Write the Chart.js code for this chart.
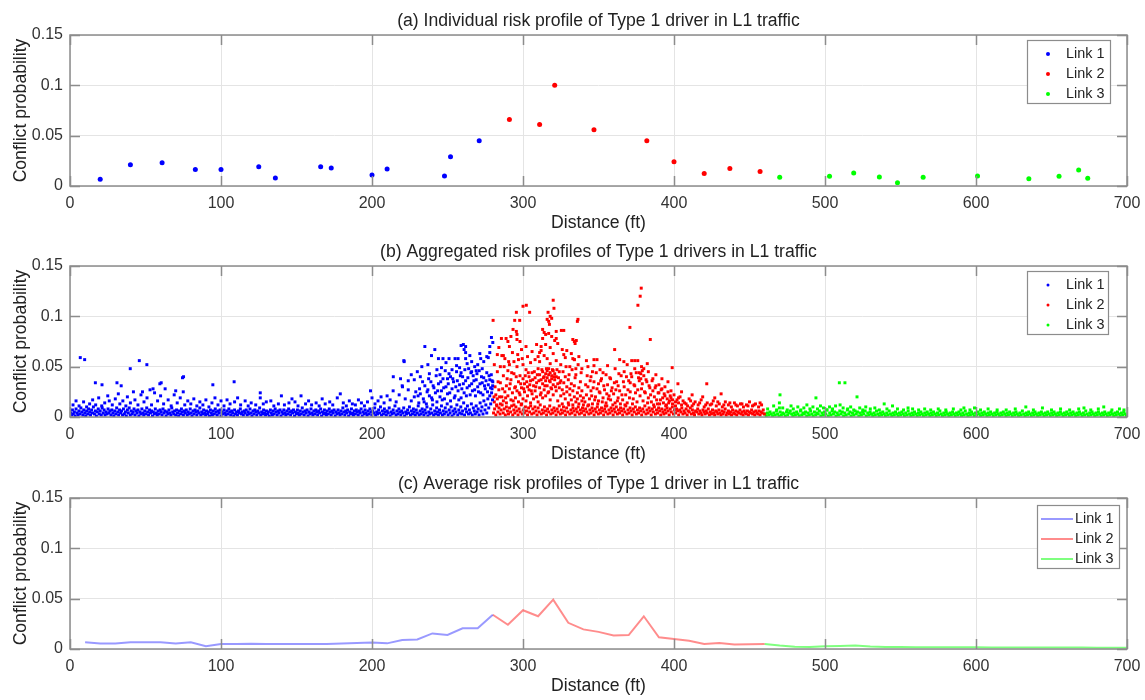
<!DOCTYPE html>
<html><head><meta charset="utf-8">
<script src="https://cdn.jsdelivr.net/npm/chart.js@4.4.1/dist/chart.umd.min.js"></script>
<style>
html,body{margin:0;padding:0;background:#fff;width:1145px;height:700px;overflow:hidden;}
canvas{position:absolute;left:0;}
</style></head><body>
<canvas id="ca" width="1145" height="234" style="top:0px;width:1145px;height:234px"></canvas>
<canvas id="cb" width="1145" height="231" style="top:234px;width:1145px;height:231px"></canvas>
<canvas id="cc" width="1145" height="232" style="top:465px;width:1145px;height:232px"></canvas>
<script>
// ---------- Tick labels / text ----------
const seriesNames = ["Link 1", "Link 2", "Link 3"];
const xTicks = [0, 100, 200, 300, 400, 500, 600, 700];
const yTicks = [0, 0.05, 0.1, 0.15];
const titles = [
  "(a) Individual risk profile of Type 1 driver in L1 traffic",
  "(b) Aggregated risk profiles of Type 1 drivers in L1 traffic",
  "(c) Average risk profiles of Type 1 driver in L1 traffic"
];

// ---------- (a) Individual profile ----------
const aLink1 = [[20,.0066],[40,.021],[61,.023],[83,.0165],[100,.0165],[125,.019],[136,.008],[166,.019],[173,.018],[200,.011],[210,.017],[248,.010],[252,.029],[271,.045]];
const aLink2 = [[291,.066],[311,.061],[321,.100],[347,.056],[382,.045],[400,.024],[420,.0125],[437,.0175],[457,.0145]];
const aLink3 = [[470,.0086],[503,.0096],[519,.013],[536,.009],[548,.0033],[565,.0086],[601,.0099],[635,.0073],[655,.0096],[668,.016],[674,.0076]];

// ---------- (b) Aggregated profiles ----------
const bLink1 = [
[0.5,.004],[1,.002],[1.6,.007],[2.2,.003],[2.9,.005],[3.4,.001],[4,.008],[4.7,.004],[5.3,.002],[5.9,.006],[6.6,.003],[7.2,.009],[7.8,.005],[8.5,.002],[9.1,.007],[9.8,.004],[10.4,.001],[11,.006],[11.7,.003],[12.3,.008],
[13,.005],[13.6,.002],[14.3,.007],[14.9,.004],[15.5,.010],[16.2,.003],[16.8,.006],[17.5,.001],[18.1,.005],[18.7,.008],[19.4,.003],[20,.006],[20.7,.002],[21.3,.009],[22,.004],[22.6,.007],[23.2,.002],[23.9,.005],[24.5,.003],[25.2,.008],
[25.8,.004],[26.4,.006],[27.1,.002],[27.7,.007],[28.4,.004],[29,.001],[29.6,.006],[30.3,.003],[30.9,.009],[31.6,.005],[32.2,.002],[32.8,.007],[33.5,.004],[34.1,.006],[34.8,.002],[35.4,.008],[36,.003],[36.7,.005],[37.3,.001],[38,.007],
[38.6,.004],[39.2,.009],[39.9,.002],[40.5,.006],[41.2,.003],[41.8,.005],[42.4,.008],[43.1,.002],[43.7,.006],[44.4,.004],[45,.007],[45.6,.001],[46.3,.005],[46.9,.003],[47.6,.008],[48.2,.004],[48.8,.002],[49.5,.006],[50.1,.003],[50.8,.009],
[51.4,.005],[52,.002],[52.7,.007],[53.3,.004],[54,.006],[54.6,.001],[55.2,.005],[55.9,.003],[56.5,.008],[57.2,.004],[57.8,.002],[58.4,.006],[59.1,.003],[59.7,.007],[60.4,.005],[61,.002],[61.6,.008],[62.3,.004],[62.9,.006],[63.6,.001],
[64.2,.005],[64.8,.003],[65.5,.007],[66.1,.004],[66.8,.002],[67.4,.009],[68,.005],[68.7,.003],[69.3,.006],[70,.002],[70.6,.007],[71.2,.004],[71.9,.001],[72.5,.006],[73.2,.003],[73.8,.008],[74.4,.005],[75.1,.002],[75.7,.006],[76.4,.004],
[77,.007],[77.6,.002],[78.3,.005],[78.9,.003],[79.6,.008],[80.2,.004],[80.8,.001],[81.5,.006],[82.1,.003],[82.8,.007],[83.4,.005],[84,.002],[84.7,.006],[85.3,.004],[86,.009],[86.6,.002],[87.2,.005],[87.9,.003],[88.5,.007],[89.2,.004],
[89.8,.002],[90.4,.006],[91.1,.003],[91.7,.005],[92.4,.001],[93,.007],[93.6,.004],[94.3,.002],[94.9,.006],[95.6,.003],[96.2,.008],[96.8,.005],[97.5,.002],[98.1,.006],[98.8,.004],[99.4,.007],[100,.001],[100.7,.005],[101.3,.003],[102,.007],
[102.6,.004],[103.2,.002],[103.9,.006],[104.5,.003],[105.2,.008],[105.8,.005],[106.4,.002],[107.1,.006],[107.7,.004],[108.4,.001],[109,.007],[109.6,.003],[110.3,.005],[110.9,.002],[111.6,.006],[112.2,.004],[112.8,.008],[113.5,.003],[114.1,.005],[114.8,.002],
[115.4,.006],[116,.004],[116.7,.007],[117.3,.002],[118,.005],[118.6,.003],[119.2,.008],[119.9,.004],[120.5,.001],[121.2,.006],[121.8,.003],[122.4,.007],[123.1,.005],[123.7,.002],[124.4,.006],[125,.004],[125.6,.009],[126.3,.002],[126.9,.005],[127.6,.003],
[128.2,.007],[128.8,.004],[129.5,.002],[130.1,.006],[130.8,.003],[131.4,.005],[132,.001],[132.7,.007],[133.3,.004],[134,.002],[134.6,.006],[135.2,.003],[135.9,.008],[136.5,.005],[137.2,.002],[137.8,.006],[138.4,.004],[139.1,.007],[139.7,.001],[140.4,.005],
[141,.003],[141.6,.007],[142.3,.004],[142.9,.002],[143.6,.006],[144.2,.003],[144.8,.008],[145.5,.005],[146.1,.002],[146.8,.006],[147.4,.004],[148,.007],[148.7,.001],[149.3,.005],[150,.003],[150.6,.007],[151.2,.004],[151.9,.002],[152.5,.006],[153.2,.003],
[153.8,.009],[154.4,.005],[155.1,.002],[155.7,.006],[156.4,.004],[157,.007],[157.6,.001],[158.3,.005],[158.9,.003],[159.6,.008],[160.2,.004],[160.8,.002],[161.5,.006],[162.1,.003],[162.8,.007],[163.4,.005],[164,.002],[164.7,.006],[165.3,.004],[166,.008],
[166.6,.001],[167.2,.005],[167.9,.003],[168.5,.007],[169.2,.004],[169.8,.002],[170.4,.006],[171.1,.003],[171.7,.008],[172.4,.005],[173,.002],[173.6,.006],[174.3,.004],[174.9,.007],[175.6,.001],[176.2,.005],[176.8,.003],[177.5,.007],[178.1,.004],[178.8,.002],
[179.4,.006],[180,.003],[180.7,.009],[181.3,.005],[182,.002],[182.6,.006],[183.2,.004],[183.9,.007],[184.5,.001],[185.2,.005],[185.8,.003],[186.4,.008],[187.1,.004],[187.7,.002],[188.4,.006],[189,.003],[189.6,.007],[190.3,.005],[190.9,.002],[191.6,.006],
[192.2,.004],[192.8,.008],[193.5,.001],[194.1,.005],[194.8,.003],[195.4,.007],[196,.004],[196.7,.002],[197.3,.006],[198,.003],[198.6,.008],[199.2,.005],[199.9,.002],[200.5,.006],[201.2,.004],[201.8,.009],[202.4,.002],[203.1,.005],[203.7,.003],[204.4,.007],
[205,.004],[205.6,.010],[206.3,.002],[206.9,.006],[207.6,.003],[208.2,.008],[208.8,.005],[209.5,.002],[210.1,.006],[210.8,.004],[211.4,.009],[212,.001],[212.7,.005],[213.3,.003],[214,.007],[214.6,.004],[215.2,.011],[215.9,.002],[216.5,.006],[217.2,.003],
[217.8,.008],[218.4,.005],[219.1,.002],[219.7,.006],[220.4,.004],[221,.009],[221.6,.001],[222.3,.005],[222.9,.003],[223.6,.007],[224.2,.004],[224.8,.010],[225.5,.002],[226.1,.006],[226.8,.003],[227.4,.008],[228,.005],[228.7,.002],[229.3,.007],[230,.004],
[230.6,.011],[231.2,.002],[231.9,.006],[232.5,.003],[233.2,.008],[233.8,.005],[234.4,.002],[235.1,.007],[235.7,.004],[236.4,.010],[237,.001],[237.6,.005],[238.3,.003],[238.9,.008],[239.6,.004],[240.2,.012],[240.8,.002],[241.5,.006],[242.1,.003],[242.8,.009],
[243.4,.005],[244,.002],[244.7,.007],[245.3,.004],[246,.011],[246.6,.002],[247.2,.006],[247.9,.003],[248.5,.009],[249.2,.005],[249.8,.013],[250.4,.002],[251.1,.007],[251.7,.004],[252.4,.010],[253,.001],[253.6,.006],[254.3,.003],[254.9,.008],[255.6,.005],
[256.2,.012],[256.8,.002],[257.5,.007],[258.1,.004],[258.8,.010],[259.4,.003],[260,.006],[260.7,.014],[261.3,.002],[262,.008],[262.6,.005],[263.2,.011],[263.9,.003],[264.5,.007],[265.2,.004],[265.8,.013],[266.4,.002],[267.1,.009],[267.7,.006],[268.4,.003],
[269,.011],[269.6,.005],[270.3,.008],[270.9,.002],[271.6,.014],[272.2,.006],[272.8,.010],[273.5,.003],[274.1,.016],[274.8,.007],[275.4,.012],[276,.004],[276.7,.018],[277.3,.009],[278,.021],[278.6,.013],[279.2,.024],[279.8,.017],[279.5,.028],[279.9,.031],
[2,.012],[4,.016],[6,.011],[9,.015],[11,.010],[13,.013],[15,.017],[17,.012],[19,.019],[21,.011],[23,.014],[25,.021],[26,.016],[28,.012],[30,.018],[32,.023],[33,.013],[35,.016],[37,.011],[38,.020],
[40,.014],[42,.025],[43,.017],[45,.012],[47,.022],[49,.015],[51,.019],[53,.027],[54,.012],[56,.024],[58,.016],[60,.021],[62,.013],[63,.028],[65,.017],[67,.011],[69,.022],[71,.014],[73,.019],[75,.025],
[76,.012],[78,.016],[80,.013],[82,.018],[84,.011],[86,.015],[88,.012],[90,.017],[92,.010],[94,.014],[96,.019],[98,.012],[100,.016],[102,.011],[104,.017],[106,.013],[109,.015],[111,.019],[113,.012],[116,.016],
[118,.011],[120,.014],[123,.012],[126,.024],[126,.019],[128,.013],[130,.015],[133,.016],[135,.011],[138,.013],[140,.021],[142,.012],[145,.014],[147,.018],[149,.015],[151,.011],[153,.021],[156,.013],[158,.016],[160,.012],
[163,.014],[165,.011],[167,.018],[169,.013],[172,.015],[174,.012],[177,.019],[179,.023],[181,.014],[183,.011],[185,.016],[187,.013],[189,.012],[191,.017],[193,.014],[195,.011],[197,.015],[199,.026],[200,.019],[202,.013],
[204,.016],[206,.020],[208,.014],[210,.021],[212,.017],[214,.026],[216,.015],[218,.022],[220,.031],[222,.018],[224,.027],[226,.016],[228,.020],[229,.025],[231,.014],[232,.023],[234,.018],[235,.031],[236,.013],[237,.027],
[238,.021],[239,.035],[240,.017],[241,.029],[242,.024],[243,.015],[244,.033],[245,.020],[246,.026],[247,.038],[248,.018],[249,.030],[250,.023],[251,.043],[252,.016],[253,.028],[254,.035],[255,.021],[256,.045],[257,.026],
[258,.032],[259,.019],[260,.040],[261,.024],[262,.036],[263,.029],[264,.048],[265,.022],[266,.033],[267,.041],[268,.027],[269,.037],[270,.030],[271,.046],[272,.024],[273,.034],[274,.039],[275,.028],[276,.044],[277,.032],
[278,.037],[279,.042],[280,.035],
[230.5,.021],[231.5,.028],[233.5,.035],[234.5,.015],[236.5,.025],[237.5,.038],[239.5,.019],[240.5,.031],[242.5,.041],[243.5,.026],[245.5,.035],[246.5,.017],[247.5,.029],[248.5,.046],[250.5,.033],[251.5,.024],[253.5,.038],[254.5,.019],[255.5,.030],[256.5,.036],
[257.5,.017],[258.5,.041],[259.5,.028],[260.5,.033],[261.5,.047],[262.5,.021],[263.5,.039],[264.5,.031],[265.5,.044],[266.5,.026],[267.5,.036],[268.5,.021],[269.5,.043],[270.5,.025],[271.5,.033],[272.5,.040],[273.5,.022],[274.5,.031],[275.5,.036],[276.5,.025],
[277.5,.041],[278.5,.029],[279.5,.036],
[6.8,.059],[9.7,.057],[16.8,.034],[21.2,.032],[31.1,.034],[33.9,.031],[39.9,.048],[45.9,.056],[50.9,.052],[60.4,.034],[59.5,.033],[75.2,.040],[74.5,.039],[94.6,.032],[108.7,.035],[48,.025],[55,.028],[70,.026],[214.1,.040],[218.9,.038],
[221.1,.056],[220.2,.030],[221.3,.055],[235,.070],[241.6,.067],[239.4,.061],[244,.058],[247,.058],[251,.058],[255,.058],[257,.058],[259,.071],[260.5,.072],[262,.070],[261,.067],[262,.064],[264.8,.061],[271.4,.063],[272,.058],[279.1,.079],
[280,.074],[278,.070],[278,.064],[277,.059],[230,.045],[233,.050],[237,.052],[243,.047],[246,.049],[249,.054],[253,.047],[256,.051],[258,.049],[263,.053],[266,.055],[268,.050],[270,.052],[274,.055],[276,.060],[266,.045],
[228,.037],[226,.042],[224,.036],[245,.042],[252,.040],[259,.044],[269,.046],[273,.048],[262,.058],[250,.038],[232,.040],[238,.043]
];
const bLink2 = [
[280.5,.004],[281.2,.008],[282,.002],[282.7,.011],[283.4,.005],[284.1,.009],[284.8,.003],[285.5,.007],[286.2,.012],[286.9,.004],[287.6,.008],[288.3,.002],[289,.010],[289.7,.006],[290.4,.003],[291.1,.009],[291.8,.005],[292.5,.011],[293.2,.002],[293.9,.007],
[294.6,.004],[295.3,.010],[296,.006],[296.7,.002],[297.4,.008],[298.1,.005],[298.8,.012],[299.5,.003],[300.2,.007],[300.9,.004],[301.6,.010],[302.3,.006],[303,.002],[303.7,.009],[304.4,.005],[305.1,.011],[305.8,.003],[306.5,.008],[307.2,.004],[307.9,.010],
[308.6,.006],[309.3,.002],[310,.009],[310.7,.005],[311.4,.012],[312.1,.003],[312.8,.007],[313.5,.004],[314.2,.010],[314.9,.006],[315.6,.002],[316.3,.008],[317,.005],[317.7,.011],[318.4,.003],[319.1,.007],[319.8,.004],[320.5,.009],[321.2,.006],[321.9,.002],
[322.6,.008],[323.3,.005],[324,.011],[324.7,.003],[325.4,.007],[326.1,.004],[326.8,.010],[327.5,.006],[328.2,.002],[328.9,.009],[329.6,.005],[330.3,.012],[331,.003],[331.7,.007],[332.4,.004],[333.1,.009],[333.8,.006],[334.5,.002],[335.2,.008],[335.9,.005],
[336.6,.010],[337.3,.003],[338,.007],[338.7,.004],[339.4,.009],[340.1,.006],[340.8,.002],[341.5,.008],[342.2,.005],[342.9,.011],[343.6,.003],[344.3,.007],[345,.004],[345.7,.009],[346.4,.006],[347.1,.002],[347.8,.008],[348.5,.005],[349.2,.010],[349.9,.003],
[350.6,.007],[351.3,.004],[352,.009],[352.7,.006],[353.4,.002],[354.1,.008],[354.8,.005],[355.5,.011],[356.2,.003],[356.9,.007],[357.6,.004],[358.3,.009],[359,.006],[359.7,.002],[360.4,.008],[361.1,.005],[361.8,.010],[362.5,.003],[363.2,.007],[363.9,.004],
[364.6,.009],[365.3,.006],[366,.002],[366.7,.008],[367.4,.005],[368.1,.011],[368.8,.003],[369.5,.007],[370.2,.004],[370.9,.009],[371.6,.006],[372.3,.002],[373,.008],[373.7,.005],[374.4,.010],[375.1,.003],[375.8,.007],[376.5,.004],[377.2,.009],[377.9,.006],
[378.6,.002],[379.3,.008],[380,.005],[380.7,.011],[381.4,.003],[382.1,.007],[382.8,.004],[383.5,.009],[384.2,.006],[384.9,.002],[385.6,.008],[386.3,.005],[387,.010],[387.7,.003],[388.4,.007],[389.1,.004],[389.8,.009],[390.5,.006],[391.2,.002],[391.9,.008],
[392.6,.005],[393.3,.003],[394,.007],[394.7,.004],[395.4,.009],[396.1,.006],[396.8,.002],[397.5,.008],[398.2,.005],[398.9,.010],[399.6,.003],[400.3,.007],[401,.004],[401.7,.008],[402.4,.006],[403.1,.002],[403.8,.007],[404.5,.005],[405.2,.009],[405.9,.003],
[406.6,.006],[407.3,.004],[408,.008],[408.7,.002],[409.4,.006],[410.1,.005],[410.8,.009],[411.5,.003],[412.2,.007],[412.9,.004],[413.6,.002],[414.3,.006],[415,.005],[415.7,.008],[416.4,.003],[417.1,.006],[417.8,.004],[418.5,.002],[419.2,.007],[419.9,.005],
[420.6,.003],[421.3,.006],[422,.004],[422.7,.008],[423.4,.002],[424.1,.005],[424.8,.003],[425.5,.007],[426.2,.004],[426.9,.002],[427.6,.006],[428.3,.005],[429,.003],[429.7,.007],[430.4,.004],[431.1,.002],[431.8,.006],[432.5,.003],[433.2,.005],[433.9,.008],
[434.6,.002],[435.3,.004],[436,.006],[436.7,.003],[437.4,.005],[438.1,.002],[438.8,.007],[439.5,.004],[440.2,.003],[440.9,.006],[441.6,.002],[442.3,.005],[443,.004],[443.7,.007],[444.4,.003],[445.1,.005],[445.8,.002],[446.5,.006],[447.2,.004],[447.9,.003],
[448.6,.006],[449.3,.002],[450,.005],[450.7,.004],[451.4,.007],[452.1,.003],[452.8,.005],[453.5,.002],[454.2,.006],[454.9,.004],[455.6,.003],[456.3,.006],[457,.002],[457.7,.005],[458.4,.004],[459.1,.007],[459.8,.003],
[281,.015],[282,.022],[283,.018],[284,.027],[285,.013],[285,.034],[286,.020],[287,.041],[287,.016],[288,.025],[289,.031],[289,.014],[290,.046],[290,.021],[291,.028],[292,.017],[292,.037],[293,.024],[294,.012],[294,.043],
[295,.030],[295,.019],[296,.026],[296,.050],[297,.015],[297,.035],[298,.022],[298,.041],[299,.029],[299,.013],[300,.038],[300,.018],[301,.033],[301,.025],[302,.047],[302,.016],[303,.030],[303,.021],[304,.040],[304,.027],
[305,.014],[305,.036],[306,.023],[306,.044],[307,.031],[307,.018],[308,.026],[308,.039],[309,.020],[309,.034],[310,.048],[310,.015],[311,.029],[311,.042],[312,.024],[312,.037],[313,.045],[313,.019],[313,.033],[314,.040],
[314,.027],[315,.043],[315,.036],[315,.021],[316,.046],[316,.031],[316,.039],[317,.025],[317,.042],[317,.048],[318,.035],[318,.017],[318,.044],[319,.038],[319,.028],[319,.041],[320,.046],[320,.032],[320,.022],[321,.037],
[321,.043],[322,.026],[322,.040],[323,.033],[323,.016],[324,.029],[324,.045],[325,.021],[325,.036],[326,.027],[326,.013],[327,.034],[327,.023],[328,.040],[328,.018],[329,.030],[329,.025],[330,.014],[330,.037],[331,.022],
[331,.028],[332,.017],[332,.033],[333,.026],[333,.012],[334,.031],[334,.020],[335,.015],[335,.042],[336,.024],[336,.018],[337,.029],[337,.013],[338,.021],[338,.035],[339,.016],[339,.026],[340,.019],[340,.012],
[300.5,.028],[301.5,.041],[302.5,.035],[303.5,.044],[304.5,.032],[305.5,.026],[306.5,.037],[307.5,.045],[308.5,.030],[309.5,.042],[310.5,.036],[311.5,.022],[312.5,.047],[313.5,.039],[314.5,.031],[315.5,.048],[316.5,.024],[317.5,.036],[318.5,.029],[319.5,.047],
[320.5,.040],[321.5,.030],[322.5,.047],[323.5,.039],[324.5,.034],[305,.054],[308,.057],[311,.055],[314,.061],[316,.058],[318,.053],[320,.063],[322,.056],[312,.066],[315,.072],[318,.069],[313,.078],[317,.083],[310,.060],[306,.065],
[303,.060],[300,.052],[297,.057],[294,.055],[291,.052],[288,.058],[285,.050],[283,.045],[286,.061],[293,.064],[299,.067],[302,.070],[309,.072],[325,.052],[328,.059],[331,.050],[334,.057],[326,.067],[323,.073],[321,.076],
[319,.080],[322,.085],[327,.062],
[280.8,.020],[281.5,.030],[282.5,.012],[283.5,.035],[284.5,.020],[286.5,.028],[287.5,.050],[288.5,.019],[289.5,.038],[290.5,.055],[291.5,.033],[292.5,.044],[293.5,.016],[294.5,.029],[295.5,.040],[296.5,.062],[297.5,.024],[298.5,.033],[299.5,.058],[281,.052],
[283,.062],[290,.075],[292,.080],[298,.075],[284,.069],
[326.5,.045],[328.5,.050],[330.5,.042],[332.5,.047],[334.5,.039],[336.5,.052],[338.5,.044],[329,.066],[332,.063],[337,.060],[339,.048],[343,.050],[346,.045],[351,.047],[356,.051],[361,.048],[364,.057],[369,.052],[380,.048],[383,.045],
[388,.042],[392,.038],[396,.035],
[280.2,.096],[285.7,.078],[288.8,.078],[291,.070],[287,.061],[293.4,.087],[294.5,.096],[295.6,.085],[295.6,.104],[296,.082],[296,.077],[297.8,.096],[300,.110],[302.2,.111],[304.4,.104],[316.6,.104],[316,.097],[317,.095],[318,.100],[319,.098],
[317.5,.092],[320,.116],[320.5,.108],[313,.087],[314,.084],[315,.082],[312,.070],[311,.064],[325.4,.086],[327,.086],[322,.078],[335.3,.076],[336,.095],[336.4,.097],[334,.057],[333,.077],[334,.075],[334.5,.073],[333,.058],[342,.056],
[347,.057],[349,.057],[347,.051],[335,.048],[353,.044],[360.7,.067],[366.8,.055],[370.8,.089],[372,.056],[374,.056],[376,.056],[374,.048],[376.1,.111],[377.6,.120],[378.3,.128],[382.3,.053],[384.3,.077],[378,.043],[379,.046],[378.5,.050],
[377,.044],[398.8,.049],[402.6,.033],[421.7,.033],[431.2,.023],
[341,.015],[342,.022],[343,.030],[344,.018],[345,.026],[346,.013],[347,.035],[348,.020],[349,.028],[350,.016],[351,.024],[352,.038],[353,.019],[354,.027],[355,.014],[356,.032],[357,.021],[358,.017],[359,.029],[360,.023],
[361,.014],[362,.035],[363,.019],[364,.026],[365,.041],[366,.017],[367,.030],[368,.022],[369,.014],[370,.036],[371,.025],[372,.040],[373,.018],[374,.031],[375,.044],[376,.027],[377,.036],[378,.038],[379,.033],[380,.041],
[381,.024],[382,.035],[383,.019],[384,.029],[385,.015],[386,.026],[387,.020],[388,.031],[389,.013],[390,.024],[391,.017],[392,.028],[393,.014],[394,.021],[395,.012],[396,.025],[397,.016],[398,.019],[399,.013],[400,.022],
[401,.011],[402,.017],[403,.014],[404,.020],[405,.012],[406,.016],[408,.013],[410,.018],[412,.011],[414,.015],[416,.012],[418,.017],[420,.010],[422,.014],[424,.012],[426,.016],[428,.011],[430,.013],[432,.010],[434,.015],
[436,.012],[438,.010],[440,.014],[442,.011],[444,.013],[446,.010],[448,.012],[450,.015],[452,.011],[454,.013],[456,.010],[458,.012],[345,.040],[350,.033],[355,.042],[358,.038],[363,.031],[367,.045],[371,.034],[386,.038],
[390,.032],[394,.030],[398,.026],[405,.025],[412,.022],[419,.020],[427,.019],
[341.5,.032],[342.5,.041],[343.5,.012],[344.5,.036],[345.5,.021],[346.5,.029],[347.5,.017],[348.5,.044],[349.5,.013],[350.5,.025],[351.5,.036],[352.5,.015],[353.5,.031],[354.5,.011],[355.5,.023],[356.5,.018],[357.5,.039],[358.5,.026],[359.5,.012],[360.5,.034],
[361.5,.027],[362.5,.016],[363.5,.043],[364.5,.013],[365.5,.022],[366.5,.035],[367.5,.012],[368.5,.040],[369.5,.027],[370.5,.019],[371.5,.043],[372.5,.013],[373.5,.032],[374.5,.024],[375.5,.015],[376.5,.039],[377.5,.021],[378.5,.028],[379.5,.016],[380.5,.025],
[381.5,.037],[382.5,.014],[383.5,.031],[384.5,.022],[385.5,.036],[386.5,.012],[387.5,.029],[388.5,.017],[389.5,.024],[390.5,.013],[391.5,.027],[392.5,.019],[393.5,.023],[394.5,.011],[395.5,.018],[396.5,.014],[397.5,.021],[399,.017],[401,.015],[403,.019],
[407,.014],[409,.011],[411,.016],[413,.013],[417,.014],[421,.012],[425,.013],[429,.015],[433,.012],[437,.014],[441,.012],[445,.013],[449,.011],[453,.012],[457,.014]
];
const bLink3 = [
[460.3,.003],[461.1,.001],[461.9,.004],[462.8,.002],[463.6,.005],[464.4,.003],[465.3,.001],[466.1,.004],[467,.002],[467.8,.006],[468.6,.003],[469.5,.001],[470.3,.005],[471.1,.002],[472,.004],[472.8,.003],[473.7,.001],[474.5,.005],[475.3,.002],[476.2,.004],
[477,.006],[477.9,.003],[478.7,.001],[479.5,.004],[480.4,.002],[481.2,.005],[482.1,.003],[482.9,.001],[483.7,.006],[484.6,.002],[485.4,.004],[486.3,.003],[487.1,.005],[487.9,.001],[488.8,.004],[489.6,.002],[490.5,.006],[491.3,.003],[492.1,.001],[493,.005],
[493.8,.002],[494.7,.004],[495.5,.003],[496.3,.006],[497.2,.001],[498,.004],[498.9,.002],[499.7,.005],[500.5,.003],[501.4,.007],[502.2,.001],[503.1,.004],[503.9,.002],[504.7,.006],[505.6,.003],[506.4,.005],[507.3,.001],[508.1,.004],[508.9,.002],[509.8,.006],
[510.6,.003],[511.5,.005],[512.3,.001],[513.1,.004],[514,.002],[514.8,.007],[515.7,.003],[516.5,.005],[517.3,.001],[518.2,.004],[519,.002],[519.9,.006],[520.7,.003],[521.5,.005],[522.4,.001],[523.2,.004],[524.1,.002],[524.9,.005],[525.7,.003],[526.6,.006],
[527.4,.001],[528.3,.004],[529.1,.002],[529.9,.005],[530.8,.003],[531.6,.001],[532.5,.004],[533.3,.002],[534.1,.006],[535,.003],[535.8,.001],[536.7,.004],[537.5,.002],[538.3,.005],[539.2,.003],[540,.001],[540.9,.004],[541.7,.002],[542.5,.006],[543.4,.003],
[544.2,.001],[545.1,.004],[545.9,.002],[546.7,.005],[547.6,.003],[548.4,.001],[549.3,.004],[550.1,.002],[550.9,.005],[551.8,.003],[552.6,.001],[553.5,.004],[554.3,.002],[555.1,.006],[556,.003],[556.8,.001],[557.7,.004],[558.5,.002],[559.3,.005],[560.2,.003],
[561,.001],[561.9,.004],[562.7,.002],[563.5,.005],[564.4,.003],[565.2,.001],[566.1,.004],[566.9,.002],[567.7,.005],[568.6,.003],[569.4,.001],[570.3,.004],[571.1,.002],[571.9,.005],[572.8,.003],[573.6,.001],[574.5,.004],[575.3,.002],[576.1,.006],[577,.003],
[577.8,.001],[578.7,.004],[579.5,.002],[580.3,.005],[581.2,.003],[582,.001],[582.9,.004],[583.7,.002],[584.5,.005],[585.4,.003],[586.2,.001],[587.1,.004],[587.9,.002],[588.7,.005],[589.6,.003],[590.4,.001],[591.3,.004],[592.1,.002],[592.9,.006],[593.8,.003],
[594.6,.001],[595.5,.004],[596.3,.002],[597.1,.005],[598,.003],[598.8,.001],[599.7,.004],[600.5,.002],[601.3,.005],[602.2,.003],[603,.001],[603.9,.004],[604.7,.002],[605.5,.005],[606.4,.003],[607.2,.001],[608.1,.004],[608.9,.002],[609.7,.005],[610.6,.003],
[611.4,.001],[612.3,.004],[613.1,.002],[613.9,.005],[614.8,.003],[615.6,.001],[616.5,.004],[617.3,.002],[618.1,.005],[619,.003],[619.8,.001],[620.7,.004],[621.5,.002],[622.3,.005],[623.2,.003],[624,.001],[624.9,.004],[625.7,.002],[626.5,.005],[627.4,.003],
[628.2,.001],[629.1,.004],[629.9,.002],[630.7,.006],[631.6,.003],[632.4,.001],[633.3,.004],[634.1,.002],[634.9,.005],[635.8,.003],[636.6,.001],[637.5,.004],[638.3,.002],[639.1,.005],[640,.003],[640.8,.001],[641.7,.004],[642.5,.002],[643.3,.005],[644.2,.003],
[645,.001],[645.9,.004],[646.7,.002],[647.5,.005],[648.4,.003],[649.2,.001],[650.1,.004],[650.9,.002],[651.7,.005],[652.6,.003],[653.4,.001],[654.3,.004],[655.1,.002],[655.9,.005],[656.8,.003],[657.6,.001],[658.5,.004],[659.3,.002],[660.1,.005],[661,.003],
[661.8,.001],[662.7,.004],[663.5,.002],[664.3,.005],[665.2,.003],[666,.001],[666.9,.004],[667.7,.002],[668.5,.005],[669.4,.003],[670.2,.001],[671.1,.004],[671.9,.002],[672.7,.006],[673.6,.003],[674.4,.001],[675.3,.004],[676.1,.002],[676.9,.005],[677.8,.003],
[678.6,.001],[679.5,.004],[680.3,.002],[681.1,.005],[682,.003],[682.8,.001],[683.7,.004],[684.5,.002],[685.3,.005],[686.2,.003],[687,.001],[687.9,.004],[688.7,.002],[689.5,.005],[690.4,.003],[691.2,.001],[692.1,.004],[692.9,.002],[693.7,.005],[694.6,.003],
[695.4,.001],[696.3,.004],[697.1,.002],[697.9,.005],[698.8,.003],[699.6,.001],
[462,.008],[466,.011],[468,.007],[470.2,.022],[469.8,.014],[469.8,.009],[472,.009],[475,.007],[477.5,.011],[479,.008],[482,.010],[484,.007],[486,.009],[488,.012],[490,.008],[492,.010],[494,.019],[495,.008],[497,.011],[499,.009],
[501,.007],[503,.010],[505,.008],[507,.011],[509.5,.034],[510,.012],[512,.009],[513.2,.034],[515,.008],[517,.010],[519,.007],[521.2,.020],[523,.009],[525,.007],[527,.010],[530,.008],[533,.009],[536,.007],[539.2,.013],[541,.008],
[544.7,.011],[548,.008],[552,.007],[555,.009],[558,.008],[562,.007],[566,.008],[570,.007],[575,.008],[580,.007],[585,.008],[590,.007],[592,.009],[596,.007],[599,.009],[603,.007],[608,.008],[614,.007],[620,.007],[626,.008],
[633,.010],[638,.007],[644,.009],[650,.007],[656,.008],[662,.007],[668,.008],[671.5,.009],[676,.007],[681,.008],[684.6,.010],[690,.007],[695,.008],[698,.007]
];

// ---------- (c) Average profiles ----------
const cLink1x = [10,20,30,40,50,60,70,80,90,100,110,120,130,140,150,160,170,180,190,200,210,220,230,240,250,260,270,280];
const cLink1y = [.0066,.0055,.0055,.0066,.0066,.0066,.0055,.0066,.0027,.0050,.0050,.0053,.0050,.0050,.0050,.0050,.0050,.0055,.0060,.0065,.0056,.0090,.0095,.0155,.0140,.0205,.0205,.0340];
const cLink2x = [280,290,300,310,320,330,340,350,360,370,380,390,400,410,420,430,440,450,460];
const cLink2y = [.0340,.0240,.0385,.0325,.0490,.0260,.0195,.0170,.0134,.0138,.0325,.0117,.0100,.0082,.0050,.0060,.0044,.0047,.0050];
const cLink3x = [460,470,480,490,500,510,520,530,540,550,560,570,580,590,600,610,620,630,640,650,660,670,680,690,700];
const cLink3y = [.0050,.0034,.0022,.0020,.0027,.0031,.0034,.0025,.0020,.0019,.0018,.0018,.0017,.0017,.0017,.0016,.0015,.0015,.0015,.0015,.0014,.0014,.0013,.0013,.0012];

// ---------- drawing ----------
const FAM = '"Liberation Sans", Arial, Helvetica, sans-serif';
const TICK_PX = 16, LABEL_PX = 17.6, LEG_PX = 14.4;
const pairs = arr => arr.map(p => ({x: p[0], y: p[1]}));
const zip = (xs, ys) => xs.map((x, i) => ({x, y: ys[i]}));

const matlabPlugin = {
  id: 'matlabAxes',
  afterDatasetsDraw(chart, args, o) {
    const {ctx, chartArea: a, scales: {x, y}} = chart;
    ctx.save();
    ctx.strokeStyle = '#8c8c8c';
    ctx.lineWidth = 1.5;
    ctx.strokeRect(a.left, a.top, a.right - a.left, a.bottom - a.top);
    ctx.beginPath();
    xTicks.forEach(v => {
      const px = Math.round(x.getPixelForValue(v)) + 0.5;
      ctx.moveTo(px, a.bottom); ctx.lineTo(px, a.bottom - 10);
      ctx.moveTo(px, a.top); ctx.lineTo(px, a.top + 10);
    });
    yTicks.forEach(v => {
      const py = Math.round(y.getPixelForValue(v)) + 0.5;
      ctx.moveTo(a.left, py); ctx.lineTo(a.left + 10, py);
      ctx.moveTo(a.right, py); ctx.lineTo(a.right - 10, py);
    });
    ctx.stroke();
    ctx.fillStyle = '#222';
    ctx.font = LABEL_PX + 'px ' + FAM;
    ctx.textAlign = 'center';
    ctx.textBaseline = 'middle';
    ctx.fillText(o.title, (a.left + a.right) / 2, a.top - 14);
    const L = o.legend;
    const bx = a.right - L.right - L.w, by = a.top + L.top;
    ctx.fillStyle = '#fff';
    ctx.fillRect(bx, by, L.w, L.h);
    ctx.strokeStyle = '#8c8c8c';
    ctx.lineWidth = 1.2;
    ctx.strokeRect(bx + 0.5, by + 0.5, L.w, L.h);
    ctx.font = LEG_PX + 'px ' + FAM;
    ctx.textAlign = 'left';
    chart.data.datasets.forEach((d, i) => {
      const yy = by + 14 + 20 * i;
      if (L.kind === 'line') {
        ctx.strokeStyle = d.borderColor;
        ctx.lineWidth = 2;
        ctx.beginPath(); ctx.moveTo(bx + 4, yy); ctx.lineTo(bx + 36, yy); ctx.stroke();
      } else {
        ctx.fillStyle = d.backgroundColor;
        ctx.beginPath(); ctx.arc(bx + 21, yy, L.dot, 0, Math.PI * 2); ctx.fill();
      }
      ctx.fillStyle = '#222';
      ctx.fillText(d.label, bx + L.tx, yy);
    });
    ctx.restore();
  }
};

function makeChart(id, datasets, topPad, plug) {
  return new Chart(document.getElementById(id), {
    type: 'scatter',
    data: {datasets},
    options: {
      responsive: false, animation: false, devicePixelRatio: 1,
      layout: {padding: {top: topPad, right: 18, left: 0, bottom: 0}},
      plugins: {legend: {display: false}, tooltip: {enabled: false}, title: {display: false}, matlabAxes: plug},
      scales: {
        x: {
          type: 'linear', min: 0, max: 700,
          afterBuildTicks: s => { s.ticks = xTicks.map(v => ({value: v})); },
          ticks: {padding: 8, color: '#333', font: {size: TICK_PX, family: FAM}, maxRotation: 0, autoSkip: false},
          grid: {color: '#e4e4e4', lineWidth: 1, drawTicks: false},
          border: {display: false},
          title: {display: true, text: 'Distance (ft)', color: '#222', font: {size: LABEL_PX, family: FAM}, padding: {top: 0, bottom: 0}},
          afterFit: s => { s.height = 48; s.paddingLeft = 0; s.paddingRight = 0; }
        },
        y: {
          type: 'linear', min: 0, max: 0.15,
          afterBuildTicks: s => { s.ticks = yTicks.map(v => ({value: v})); },
          ticks: {padding: 7, color: '#333', font: {size: TICK_PX, family: FAM}, callback: v => String(Math.round(v * 100) / 100)},
          grid: {color: '#e4e4e4', lineWidth: 1, drawTicks: false},
          border: {display: false},
          title: {display: true, text: 'Conflict probability', color: '#222', font: {size: LABEL_PX, family: FAM}, padding: {top: 11, bottom: 0}},
          afterFit: s => { s.width = 70; s.paddingTop = 0; s.paddingBottom = 0; }
        }
      }
    },
    plugins: [matlabPlugin]
  });
}

const colors = ['#0000ff', '#ff0000', '#00ff00'];
const lineColors = ['rgba(0,0,255,0.4)', 'rgba(255,0,0,0.45)', 'rgba(0,255,0,0.5)'];

makeChart('ca', [aLink1, aLink2, aLink3].map((d, i) => ({
  label: seriesNames[i], data: pairs(d), backgroundColor: colors[i], borderWidth: 0, pointRadius: 2.5, pointHoverRadius: 2.5
})), 35, {title: titles[0], legend: {right: 17, w: 83, top: 5, h: 63, kind: 'dot', dot: 2, tx: 39}});

makeChart('cb', [bLink1, bLink2, bLink3].map((d, i) => ({
  label: seriesNames[i], data: pairs(d), backgroundColor: colors[i], borderWidth: 0, pointStyle: 'rect', pointRadius: 2.1, pointHoverRadius: 2.1
})), 32, {title: titles[1], legend: {right: 19, w: 81, top: 5, h: 63, kind: 'dot', dot: 1.5, tx: 39}});

makeChart('cc', [[cLink1x, cLink1y], [cLink2x, cLink2y], [cLink3x, cLink3y]].map((d, i) => ({
  label: seriesNames[i], data: zip(d[0], d[1]), showLine: true, borderColor: lineColors[i], borderWidth: 2,
  backgroundColor: lineColors[i], pointRadius: 0, pointHoverRadius: 0, tension: 0
})), 33, {title: titles[2], legend: {right: 8, w: 82, top: 7, h: 63, kind: 'line', tx: 38}});
</script>
</body></html>
